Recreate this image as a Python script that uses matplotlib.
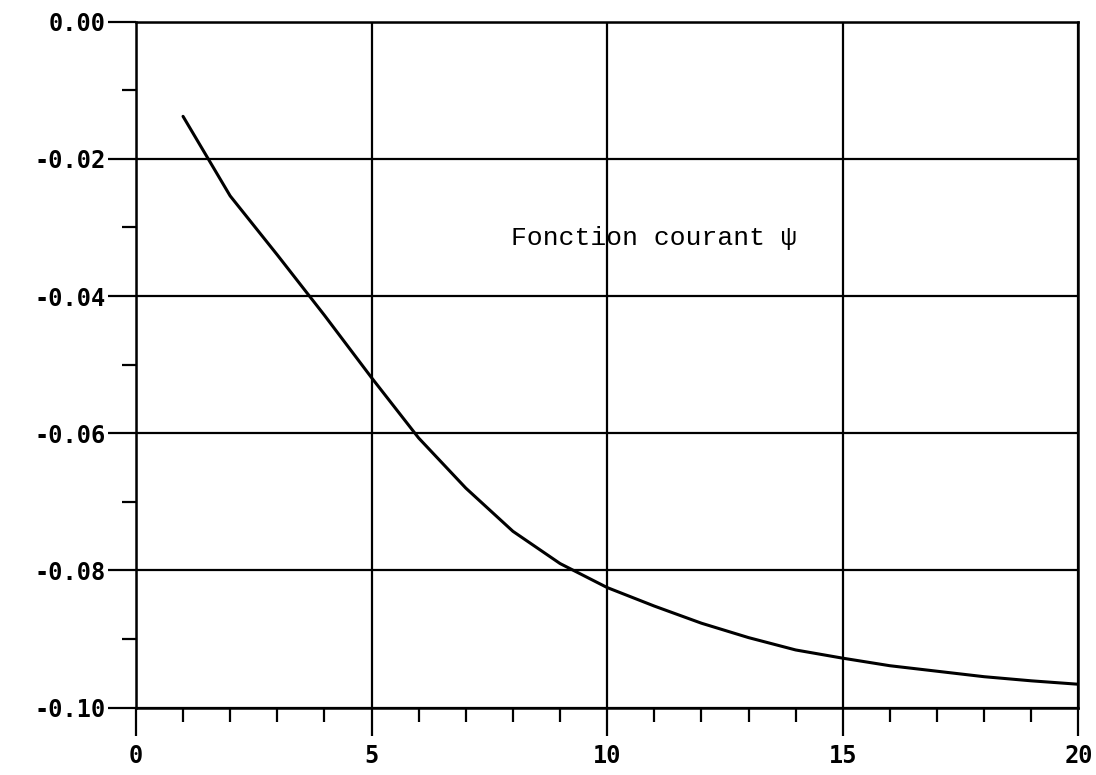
import numpy as np
from matplotlib import pyplot as plt
from matplotlib.ticker import MultipleLocator


# stream function values
x = [1, 2, 3, 4, 5, 6, 7, 8, 9, 10,
     11, 12, 13, 14, 15, 16, 17, 18, 19, 20]
psi = [-0.0138, -0.0254, -0.0340, -0.0428, -0.0519, -0.0607, -0.0680, -0.0743, -0.0790, -0.0825,
       -0.0852, -0.0877, -0.0898, -0.0916, -0.0928, -0.0939, -0.0947, -0.0955, -0.0961, -0.0966]

xticks = [0, 5, 10, 15, 20]
yticks = [0.00, -0.02, -0.04, -0.06, -0.08, -0.10]
ylabels = ["0.00", "-0.02", "-0.04", "-0.06", "-0.08", "-0.10"]

plt.rcParams["figure.figsize"] = (10.96, 7.75)
fig = plt.figure(dpi=100)
ax = fig.add_axes([0.124, 0.087, 0.86, 0.885])

ax.plot(x, psi, color="black", linewidth=2.2, solid_capstyle="round")

ax.set_xlim(0, 20)
ax.set_ylim(-0.10, 0.0)
ax.set_xticks(xticks)
ax.set_xticklabels([str(t) for t in xticks])
ax.set_yticks(yticks)
ax.set_yticklabels(ylabels)
ax.xaxis.set_minor_locator(MultipleLocator(1))
ax.yaxis.set_minor_locator(MultipleLocator(0.01))

ax.grid(which="major", color="black", linewidth=1.6)
for s in ax.spines.values():
    s.set_linewidth(1.8)

ax.tick_params(which="major", direction="out", length=20, width=1.6, pad=2,
               labelsize=17, colors="black")
ax.tick_params(axis="x", which="major", pad=6)
ax.tick_params(which="minor", direction="out", length=10, width=1.6)
for lab in ax.get_xticklabels() + ax.get_yticklabels():
    lab.set_family("DejaVu Sans Mono")
    lab.set_fontweight("bold")

ax.text(7.95, -0.0315, "Fonction courant \u03c8", family="Liberation Mono",
        fontsize=19, va="center", ha="left")

plt.savefig("out.png", dpi=100)
